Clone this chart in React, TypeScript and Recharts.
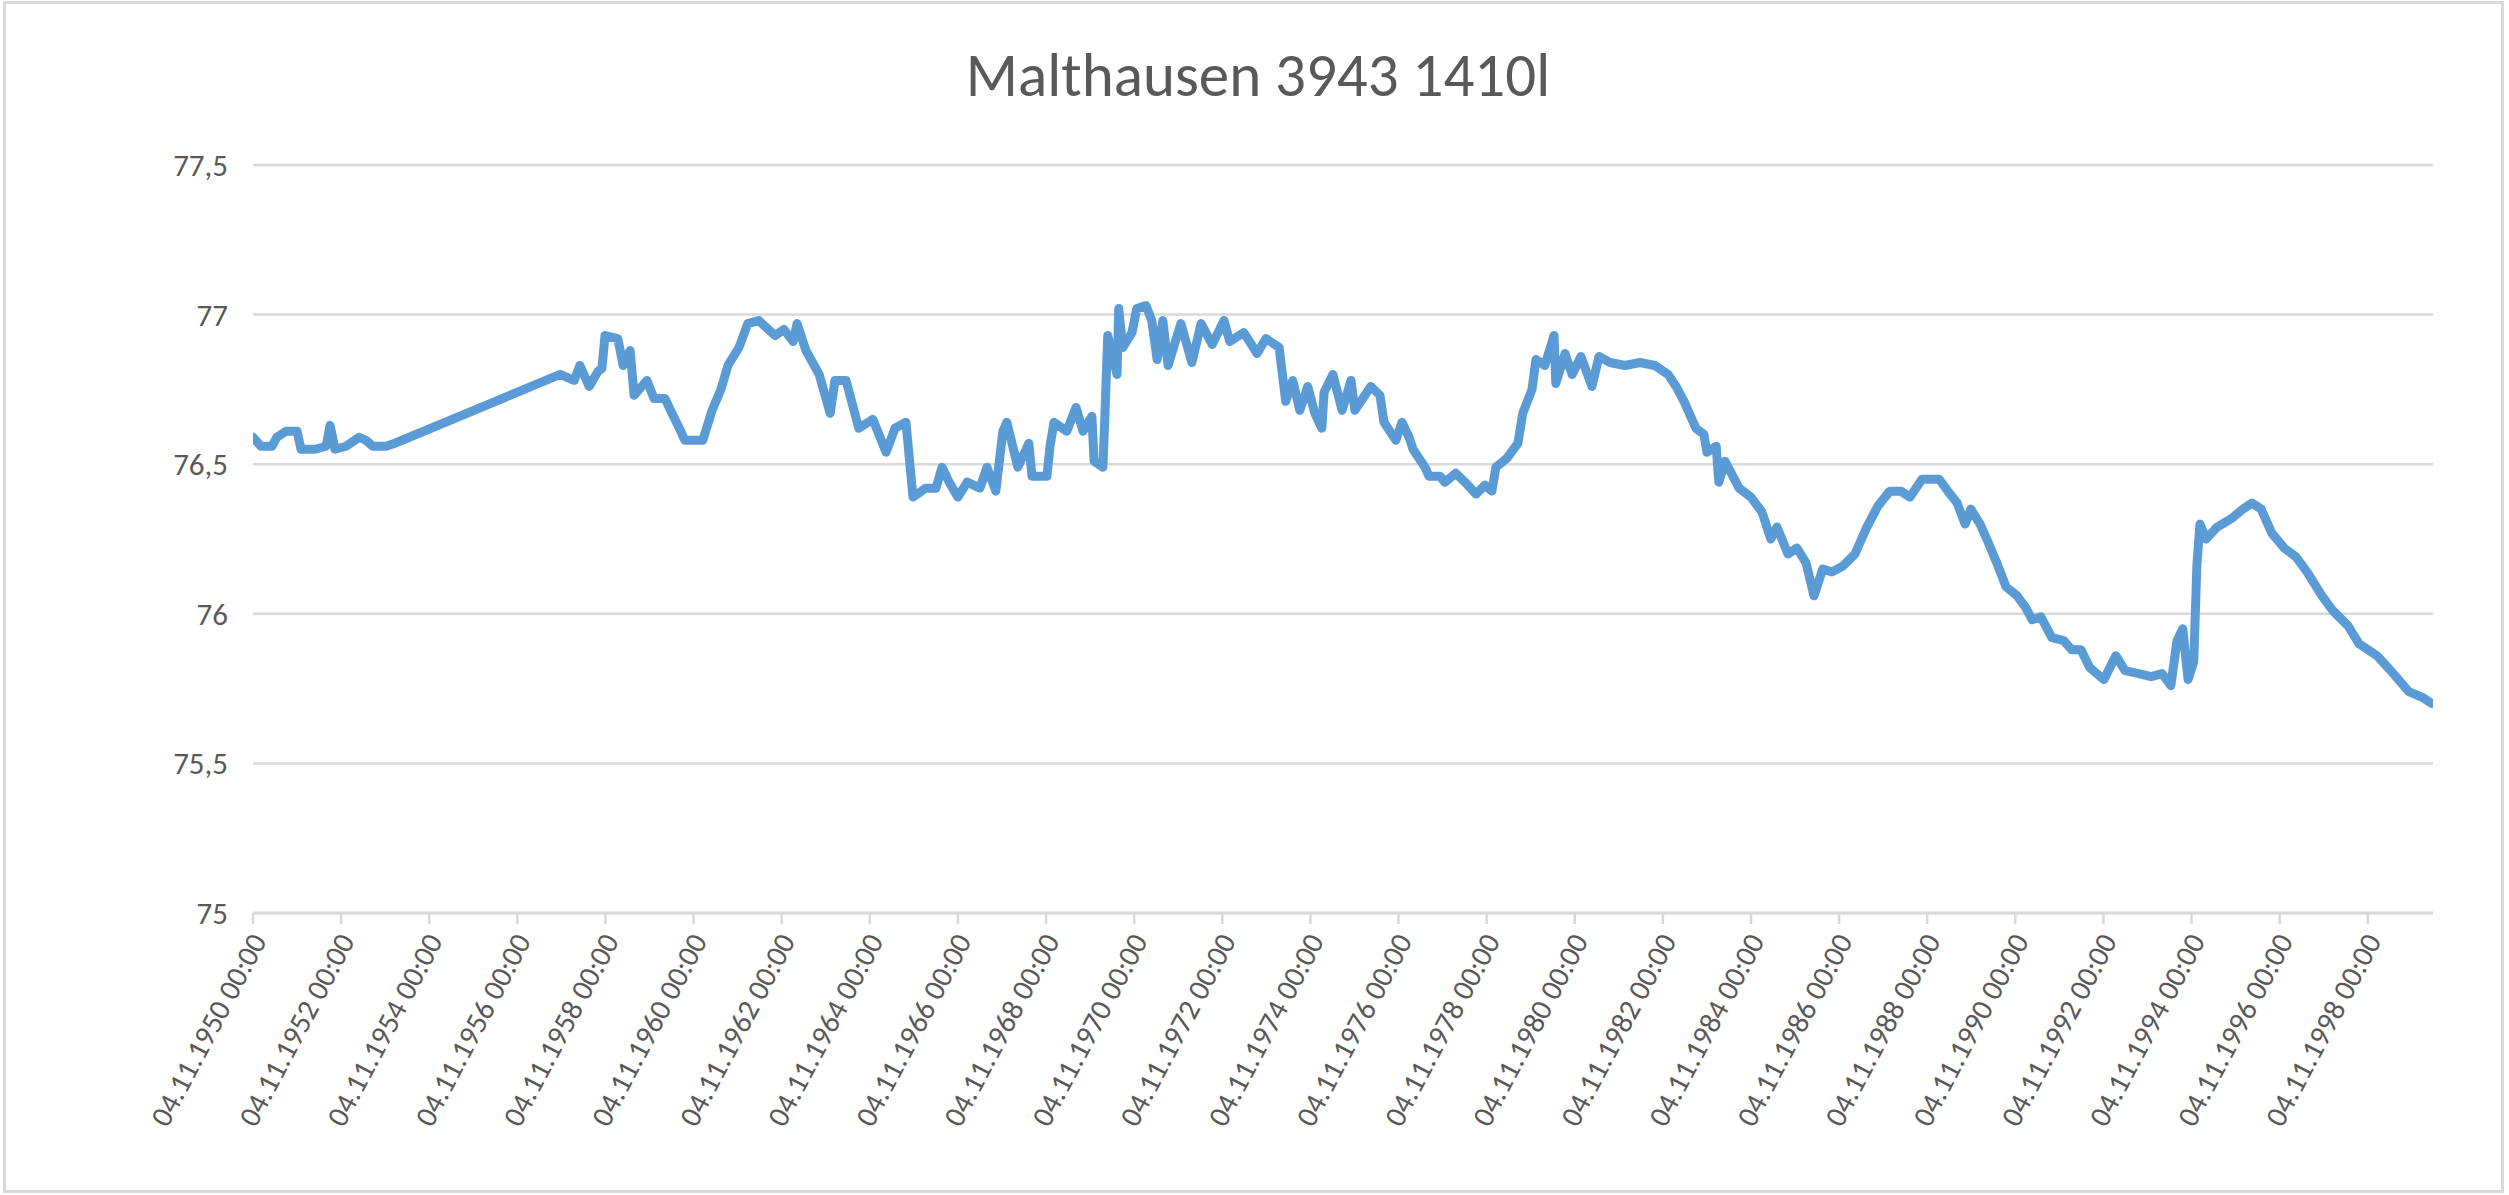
import React from "react";
import { CartesianGrid, Line, LineChart, XAxis, YAxis } from "recharts";

// Groundwater level (decimal year -> level)
const years = [
  1950.84, 1951.02, 1951.27, 1951.38, 1951.59, 1951.84, 1951.93, 1952.25, 1952.5, 1952.59,
  1952.7, 1952.95, 1953.25, 1953.4, 1953.56, 1953.86, 1954.06, 1957.81, 1958.13, 1958.26,
  1958.47, 1958.67, 1958.76, 1958.83, 1959.12, 1959.24, 1959.4, 1959.49, 1959.78, 1959.94,
  1960.19, 1960.35, 1960.55, 1960.64, 1961.05, 1961.26, 1961.46, 1961.62, 1961.87, 1962.07,
  1962.32, 1962.69, 1962.89, 1963.1, 1963.19, 1963.39, 1963.69, 1963.94, 1964.05, 1964.3,
  1964.59, 1964.91, 1965.21, 1965.41, 1965.66, 1965.82, 1966.11, 1966.34, 1966.48, 1966.64,
  1966.84, 1967.05, 1967.34, 1967.5, 1967.7, 1967.86, 1967.95, 1968.2, 1968.45, 1968.52,
  1968.86, 1968.93, 1969.02, 1969.31, 1969.52, 1969.68, 1969.88, 1969.93, 1970.13, 1970.18,
  1970.24, 1970.45, 1970.49, 1970.58, 1970.79, 1970.9, 1971.11, 1971.24, 1971.36, 1971.49,
  1971.61, 1971.9, 1972.15, 1972.36, 1972.61, 1972.88, 1973.01, 1973.33, 1973.63, 1973.83,
  1974.13, 1974.28, 1974.44, 1974.6, 1974.78, 1974.94, 1975.1, 1975.15, 1975.35, 1975.56,
  1975.76, 1975.85, 1976.21, 1976.42, 1976.51, 1976.78, 1976.92, 1977.08, 1977.17, 1977.44,
  1977.53, 1977.78, 1977.89, 1978.14, 1978.35, 1978.6, 1978.8, 1978.96, 1979.05, 1979.3,
  1979.55, 1979.66, 1979.87, 1979.96, 1980.16, 1980.37, 1980.41, 1980.62, 1980.78, 1980.98,
  1981.23, 1981.39, 1981.64, 1981.98, 1982.32, 1982.66, 1982.96, 1983.14, 1983.32, 1983.59,
  1983.77, 1983.84, 1984.05, 1984.11, 1984.25, 1984.57, 1984.84, 1985.09, 1985.29, 1985.43,
  1985.68, 1985.88, 1986.09, 1986.27, 1986.47, 1986.68, 1986.93, 1987.2, 1987.47, 1987.72,
  1987.99, 1988.24, 1988.45, 1988.72, 1988.97, 1989.11, 1989.31, 1989.52, 1989.7, 1989.83,
  1990.04, 1990.22, 1990.42, 1990.63, 1990.88, 1991.08, 1991.22, 1991.42, 1991.67, 1991.94,
  1992.12, 1992.33, 1992.53, 1992.85, 1993.12, 1993.33, 1993.64, 1993.92, 1994.17, 1994.37,
  1994.51, 1994.64, 1994.76, 1994.89, 1994.96, 1995.03, 1995.17, 1995.42, 1995.76, 1996.01,
  1996.21, 1996.42, 1996.66, 1996.94, 1997.21, 1997.46, 1997.8, 1998.05, 1998.39, 1998.64,
  1999.05, 1999.36, 1999.77, 2000.09, 2000.29,
];

const levels = [
  76.59, 76.56, 76.56, 76.59, 76.61, 76.61, 76.55, 76.55, 76.56, 76.63,
  76.55, 76.56, 76.59, 76.58, 76.56, 76.56, 76.57, 76.8, 76.78, 76.83,
  76.76, 76.81, 76.82, 76.93, 76.92, 76.83, 76.88, 76.73, 76.78, 76.72,
  76.72, 76.67, 76.61, 76.58, 76.58, 76.68, 76.75, 76.83, 76.89, 76.97,
  76.98, 76.93, 76.95, 76.91, 76.97, 76.88, 76.8, 76.67, 76.78, 76.78,
  76.62, 76.65, 76.54, 76.62, 76.64, 76.39, 76.42, 76.42, 76.49, 76.44,
  76.39, 76.44, 76.42, 76.49, 76.41, 76.61, 76.64, 76.49, 76.57, 76.46,
  76.46, 76.56, 76.64, 76.61, 76.69, 76.61, 76.66, 76.51, 76.49, 76.68,
  76.93, 76.8, 77.02, 76.89, 76.94, 77.02, 77.03, 76.98, 76.85, 76.98,
  76.83, 76.97, 76.84, 76.97, 76.9, 76.98, 76.91, 76.94, 76.87, 76.92,
  76.89, 76.71, 76.78, 76.68, 76.76, 76.67, 76.62, 76.74, 76.8, 76.68,
  76.78, 76.68, 76.76, 76.73, 76.64, 76.58, 76.64, 76.59, 76.55, 76.49,
  76.46, 76.46, 76.44, 76.47, 76.44, 76.4, 76.43, 76.41, 76.49, 76.52,
  76.57, 76.67, 76.75, 76.85, 76.83, 76.93, 76.77, 76.87, 76.8, 76.86,
  76.76, 76.86, 76.84, 76.83, 76.84, 76.83, 76.8, 76.76, 76.71, 76.62,
  76.6, 76.54, 76.56, 76.44, 76.51, 76.42, 76.39, 76.34, 76.25, 76.29,
  76.2, 76.22, 76.17, 76.06, 76.15, 76.14, 76.16, 76.2, 76.29, 76.36,
  76.41, 76.41, 76.39, 76.45, 76.45, 76.45, 76.41, 76.37, 76.3, 76.35,
  76.3, 76.24, 76.17, 76.09, 76.06, 76.02, 75.98, 75.99, 75.92, 75.91,
  75.88, 75.88, 75.82, 75.78, 75.86, 75.81, 75.8, 75.79, 75.8, 75.76,
  75.91, 75.95, 75.78, 75.84, 76.16, 76.3, 76.25, 76.29, 76.32, 76.35,
  76.37, 76.35, 76.27, 76.22, 76.19, 76.14, 76.06, 76.01, 75.96, 75.9,
  75.86, 75.81, 75.74, 75.72, 75.7,
];

const tickYears = [
  1950.84, 1952.84, 1954.84, 1956.84, 1958.84, 1960.84, 1962.84, 1964.84, 1966.84,
  1968.84, 1970.84, 1972.84, 1974.84, 1976.84, 1978.84, 1980.84, 1982.84, 1984.84,
  1986.84, 1988.84, 1990.84, 1992.84, 1994.84, 1996.84, 1998.84,
];

const tickLabels = [
  "04.11.1950 00:00", "04.11.1952 00:00", "04.11.1954 00:00", "04.11.1956 00:00",
  "04.11.1958 00:00", "04.11.1960 00:00", "04.11.1962 00:00", "04.11.1964 00:00",
  "04.11.1966 00:00", "04.11.1968 00:00", "04.11.1970 00:00", "04.11.1972 00:00",
  "04.11.1974 00:00", "04.11.1976 00:00", "04.11.1978 00:00", "04.11.1980 00:00",
  "04.11.1982 00:00", "04.11.1984 00:00", "04.11.1986 00:00", "04.11.1988 00:00",
  "04.11.1990 00:00", "04.11.1992 00:00", "04.11.1994 00:00", "04.11.1996 00:00",
  "04.11.1998 00:00",
];

const yTicks = [75, 75.5, 76, 76.5, 77, 77.5];
const title = "Malthausen 3943 1410l";

const FONT = "Carlito, Calibri, Lato, sans-serif";
const TEXT = "#595959";
const GRID = "#D9D9D9";

const data = years.map((t, i) => ({ t, level: levels[i] }));

function DateTick(props: any) {
  const { x, payload } = props;
  const i = tickYears.indexOf(payload.value);
  const ax = x + 5;
  const ay = 936;
  return (
    <text
      x={ax}
      y={ay}
      dy="0.35em"
      textAnchor="end"
      transform={`rotate(-62, ${ax}, ${ay})`}
      fill={TEXT}
      fontSize={30}
      fontFamily={FONT}
    >
      {tickLabels[i] ?? ""}
    </text>
  );
}

export default function App() {
  return (
    <div style={{ position: "relative", width: 2509, height: 1195, background: "#fff" }}>
      <style>{"body{margin:0}"}</style>
      <LineChart
        width={2509}
        height={1195}
        data={data}
        margin={{ top: 165, right: 76, bottom: 0, left: 0 }}
        style={{ position: "absolute", left: 0, top: 0 }}
      >
        <CartesianGrid vertical={false} stroke={GRID} strokeWidth={2.5} />
        <XAxis
          dataKey="t"
          type="number"
          domain={[1950.84, 2000.32]}
          ticks={tickYears}
          interval={0}
          allowDataOverflow
          height={282}
          axisLine={{ stroke: GRID, strokeWidth: 3 }}
          tickLine={{ stroke: GRID, strokeWidth: 2.5 }}
          tickSize={11}
          tick={<DateTick />}
        />
        <YAxis
          type="number"
          domain={[75, 77.5]}
          ticks={yTicks}
          width={253}
          axisLine={false}
          tickLine={false}
          tickMargin={19}
          tickFormatter={(v: number) => String(v).replace(".", ",")}
          tick={{ fill: TEXT, fontSize: 31, fontFamily: FONT }}
        />
        <Line
          type="linear"
          dataKey="level"
          stroke="#5B9BD5"
          strokeWidth={9}
          strokeLinejoin="round"
          strokeLinecap="round"
          dot={false}
          activeDot={false}
          isAnimationActive={false}
        />
      </LineChart>
      <svg width={2509} height={140} style={{ position: "absolute", left: 0, top: 0 }}>
        <text x={1258} y={96} textAnchor="middle" fill={TEXT} fontSize={61} fontFamily={FONT}>
          {title}
        </text>
      </svg>
      <div
        style={{
          position: "absolute",
          left: 3,
          top: 1,
          width: 2501,
          height: 1192,
          border: `3px solid ${GRID}`,
          boxSizing: "border-box",
          pointerEvents: "none",
        }}
      />
    </div>
  );
}
